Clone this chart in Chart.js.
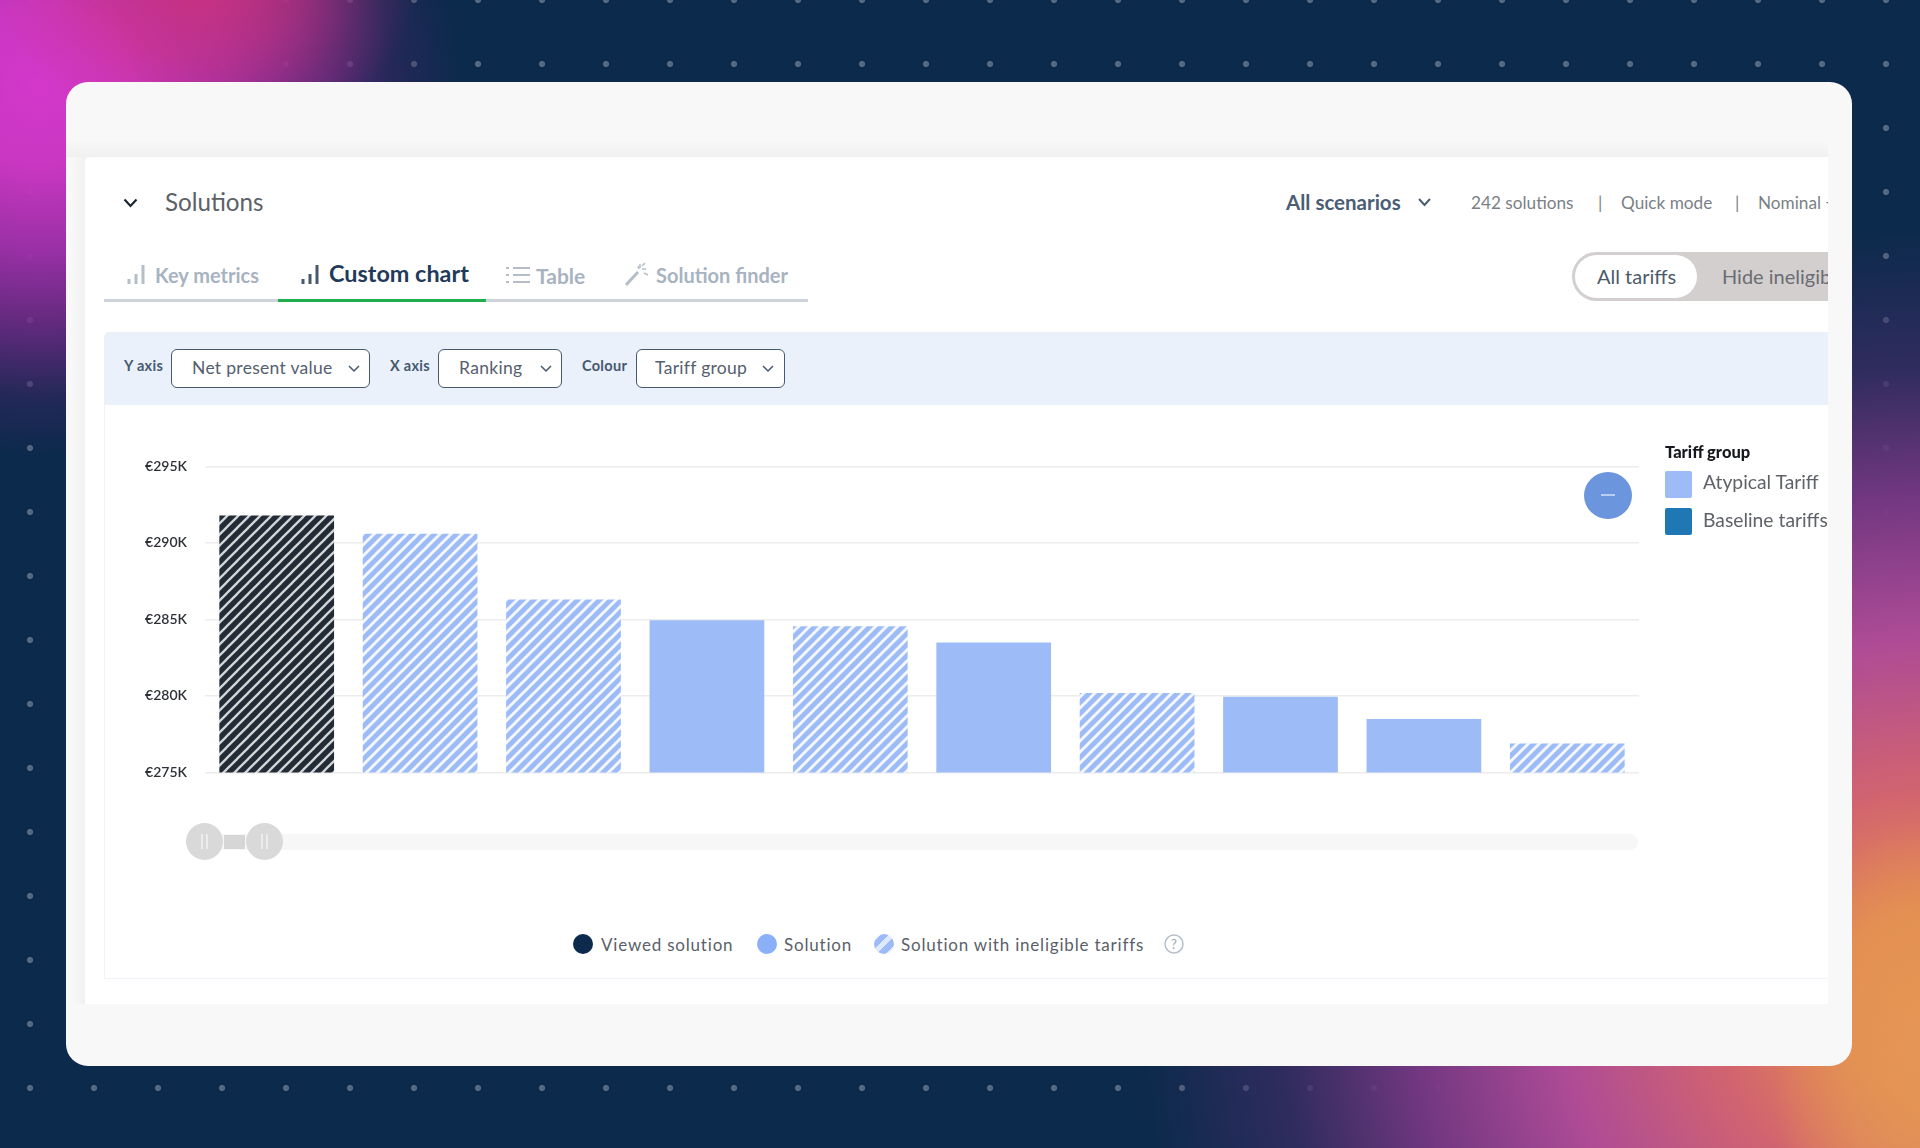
<!DOCTYPE html>
<html>
<head>
<meta charset="utf-8">
<title>Solutions – Custom chart</title>
<script src="https://cdn.jsdelivr.net/npm/chart.js@4/dist/chart.umd.min.js"></script>
<style>
html, body { margin: 0; padding: 0; width: 1920px; height: 1148px; overflow: hidden; }
body { position: relative; font-family: Lato, "Noto Sans", sans-serif; background: #0c2a4c; }
.bg { position: absolute; inset: 0; background:
    radial-gradient(ellipse 210px 150px at 205px -10px, rgba(205,50,125,.9) 0%, rgba(205,50,125,.55) 45%, rgba(205,50,125,.2) 75%, rgba(205,50,125,0) 100%),
    radial-gradient(ellipse 150px 260px at 1925px 1080px, rgba(228,150,85,.95) 0%, rgba(228,150,85,.6) 50%, rgba(228,150,85,0) 100%),
    radial-gradient(ellipse 420px 370px at 40px 85px, #d338cb 0%, rgba(205,55,195,.98) 22%, rgba(160,48,170,.95) 45%, rgba(115,42,135,.82) 65%, rgba(60,38,100,.5) 84%, rgba(12,42,76,0) 100%),
    radial-gradient(ellipse 790px 770px at 1930px 1000px, #e8904f 0%, #e38a52 12%, #d2646f 27%, #ae4b96 47%, rgba(120,56,132,.96) 65%, rgba(60,45,100,.75) 82%, rgba(12,42,76,0) 100%),
    radial-gradient(circle 3px at 32px 32px, rgba(255,255,255,.3) 96%, rgba(255,255,255,0)) -2px -32px / 64px 64px,
    #0c2a4c; }
.card { position: absolute; left: 66px; top: 82px; width: 1786px; height: 984px; background: #f8f8f8; border-radius: 22px; }
.band { position: absolute; left: 66px; top: 142px; width: 1762px; height: 15px; background: linear-gradient(#f7f7f7, #f0f0f0); }
.sideband { position: absolute; left: 72px; top: 157px; width: 13px; height: 847px; background: linear-gradient(90deg, #f8f8f8, #f1f1f1); }
.panel { position: absolute; inset: 0; clip-path: inset(157px 92px 144px 85px round 6px 0 0 0); background: #fff; }
.t { position: absolute; white-space: nowrap; transform: translateY(-50%); line-height: 1; }
.tab { font-size: 20px; font-weight: 700; color: #a8b3c1; }
.sel { position: absolute; box-sizing: border-box; top: 349px; height: 39px; border: 1.5px solid #46596f; border-radius: 6px; background: #fff; }
.lab { font-size: 14.5px; font-weight: 700; color: #46596f; letter-spacing: .3px; }
.opt { font-size: 17.5px; color: #55606e; letter-spacing: .3px; }
.meta { font-size: 17.2px; color: #7b7f86; }
.leg { font-size: 17px; color: #5a5f69; letter-spacing: .8px; }
svg.i { position: absolute; overflow: visible; }
.filter { position: absolute; left: 104px; top: 332px; width: 1740px; height: 73px; background: #eaf1fb; border-radius: 5px 0 0 0; }
.frame { position: absolute; box-sizing: border-box; left: 104px; top: 405px; width: 1740px; height: 574px; border: 1.5px solid #f0f3f9; border-top: 0; }
.tabline { position: absolute; left: 104px; top: 299px; width: 704px; height: 3px; background: #ced3da; }
.tabgreen { position: absolute; left: 278px; top: 299px; width: 208px; height: 3px; background: #1fae4e; }
.toggle { position: absolute; left: 1572px; top: 252px; width: 320px; height: 49px; background: #d3cfcf; border-radius: 25px; }
.pill { position: absolute; left: 1575px; top: 255px; width: 122px; height: 43px; background: #fff; border-radius: 22px; }
canvas#npvChart { position: absolute; left: 105px; top: 440px; }
.track { position: absolute; left: 204px; top: 834px; width: 1434px; height: 16px; background: #f7f7f7; border-radius: 8px; }
.brush { position: absolute; left: 224px; top: 835px; width: 21px; height: 14px; background: #d6d6d6; }
.handle { position: absolute; top: 823px; width: 37px; height: 37px; border-radius: 50%; background: #d9d9d9; }
.handle::before, .handle::after { content: ""; position: absolute; top: 11px; width: 2px; height: 15px; background: #ececec; }
.handle::before { left: 15px; } .handle::after { left: 20px; }
.zoomBtn { position: absolute; left: 1584px; top: 472px; width: 48px; height: 47px; border-radius: 50%; background: #6b96de; }
.zoomBtn::after { content: ""; position: absolute; left: 17px; top: 22px; width: 14px; height: 2px; background: #b9cdf0; }
.sw { position: absolute; left: 1665px; width: 27px; height: 27px; border-radius: 2px; }
.dot { position: absolute; top: 934px; width: 20px; height: 20px; border-radius: 50%; }
</style>
</head>
<body>
<div class="bg"></div>
<div class="card"></div>
<div class="band"></div>
<div class="sideband"></div>

<div class="panel">
    <svg class="i" style="left:123px;top:198px" width="15" height="10"><path d="M1.5 1.5 L7.5 8 L13.5 1.5" fill="none" stroke="#1b2530" stroke-width="2.2"/></svg>
    <div class="t" style="left:165px;top:202px;font-size:24.2px;color:#5c6168">Solutions</div>

    <div class="t" style="left:1286px;top:202px;font-size:20.5px;font-weight:700;color:#4a5d75">All scenarios</div>
    <svg class="i" style="left:1418px;top:198px" width="13" height="9"><path d="M1 1 L6.5 7 L12 1" fill="none" stroke="#4a5d75" stroke-width="2"/></svg>
    <div class="t meta" style="left:1471px;top:203px">242 solutions</div>
    <div class="t meta" style="left:1598px;top:203px">|</div>
    <div class="t meta" style="left:1621px;top:203px">Quick mode</div>
    <div class="t meta" style="left:1735px;top:203px">|</div>
    <div class="t meta" style="left:1758px;top:203px">Nominal +</div>

    <!-- tabs -->
    <svg class="i" style="left:127px;top:264px" width="20" height="22"><path d="M2 20v-5M9 20v-10M16 20V1" stroke="#b4bdc9" stroke-width="3"/></svg>
    <div class="t tab" style="left:155px;top:275px">Key metrics</div>
    <svg class="i" style="left:301px;top:264px" width="20" height="22"><path d="M2 20v-5M9 20v-10M16 20V1" stroke="#46596f" stroke-width="3"/></svg>
    <div class="t tab" style="left:329px;top:274px;font-size:23.4px;color:#223a5a">Custom chart</div>
    <svg class="i" style="left:506px;top:265px" width="24" height="20"><path d="M0 3h3M7 3h17M0 10h3M7 10h17M0 17h3M7 17h17" stroke="#b4bdc9" stroke-width="2"/></svg>
    <div class="t tab" style="left:536px;top:275px;font-size:21px">Table</div>
    <svg class="i" style="left:624px;top:261px" width="26" height="26"><path d="M2 24L14 11" stroke="#b4bdc9" stroke-width="3"/><path d="M16 3v4M22 8h-4M21 2l-3 3M24 14l-4-2M14 5l1 3" stroke="#b4bdc9" stroke-width="1.5"/></svg>
    <div class="t tab" style="left:656px;top:275px">Solution finder</div>
    <div class="tabline"></div>
    <div class="tabgreen"></div>

    <div class="toggle"></div>
    <div class="pill"></div>
    <div class="t" style="left:1597px;top:276px;font-size:20px;color:#4d5a6a">All tariffs</div>
    <div class="t" style="left:1722px;top:276px;font-size:20px;color:#6a6d72">Hide ineligible</div>

    <!-- filter bar -->
    <div class="filter"></div>
    <div class="t lab" style="left:124px;top:366px">Y axis</div>
    <div class="sel" style="left:171px;width:199px"></div>
    <div class="t opt" style="left:192px;top:368px">Net present value</div>
    <svg class="i" style="left:348px;top:365px" width="12" height="8"><path d="M1 1 L6 6 L11 1" fill="none" stroke="#46596f" stroke-width="1.5"/></svg>
    <div class="t lab" style="left:390px;top:366px">X axis</div>
    <div class="sel" style="left:438px;width:124px"></div>
    <div class="t opt" style="left:459px;top:368px">Ranking</div>
    <svg class="i" style="left:540px;top:365px" width="12" height="8"><path d="M1 1 L6 6 L11 1" fill="none" stroke="#46596f" stroke-width="1.5"/></svg>
    <div class="t lab" style="left:582px;top:366px">Colour</div>
    <div class="sel" style="left:636px;width:149px"></div>
    <div class="t opt" style="left:655px;top:368px">Tariff group</div>
    <svg class="i" style="left:762px;top:365px" width="12" height="8"><path d="M1 1 L6 6 L11 1" fill="none" stroke="#46596f" stroke-width="1.5"/></svg>

    <div class="frame"></div>

    <canvas id="npvChart" width="1540" height="360"></canvas>

    <div class="zoomBtn"></div>

    <!-- tariff group legend -->
    <div class="t" style="left:1665px;top:452px;font-size:16.5px;font-weight:900;color:#15181c">Tariff group</div>
    <div class="sw" style="top:471px;background:#9cbbf7"></div>
    <div class="t" style="left:1703px;top:482px;font-size:19.3px;color:#5f6369">Atypical Tariff</div>
    <div class="sw" style="top:508px;background:#1f77b4"></div>
    <div class="t" style="left:1703px;top:520px;font-size:19.3px;color:#5f6369">Baseline tariffs</div>

    <!-- range slider -->
    <div class="track"></div>
    <div class="brush"></div>
    <div class="handle" style="left:186px"></div>
    <div class="handle" style="left:246px"></div>

    <!-- status legend -->
    <div class="dot" style="left:573px;background:#0d2a4d"></div>
    <div class="t leg" style="left:601px;top:944px">Viewed solution</div>
    <div class="dot" style="left:757px;background:#8ab1f7"></div>
    <div class="t leg" style="left:784px;top:944px">Solution</div>
    <div class="dot" style="left:874px;background:repeating-linear-gradient(135deg,#dfe9fc 0 5px,#9cbbf7 5px 11px)"></div>
    <div class="t leg" style="left:901px;top:944px">Solution with ineligible tariffs</div>
    <svg class="i" style="left:1164px;top:934px" width="20" height="20"><circle cx="10" cy="10" r="9" fill="none" stroke="#b7c0cc" stroke-width="1.5"/><text x="10" y="15" text-anchor="middle" font-size="13" fill="#98a3b1" font-family="Lato">?</text></svg>
</div>

<script>
// Values, in thousands of euros
const rankLabels = ['1', '2', '3', '4', '5', '6', '7', '8', '9', '10'];
const npvValues = [291.8, 290.6, 286.3, 284.95, 284.55, 283.5, 280.2, 279.95, 278.5, 276.9];
const ineligibleFlags = [true, true, true, false, true, false, true, false, false, true];
const viewedRank = '1';
const yTicks = [275, 280, 285, 290, 295];

const BLUE = '#9cbbf7';
const DARK = '#222b36';

// Diagonal hatch tile for bars with ineligible tariffs
function hatch(base, stripe, width) {
    const size = 11;
    const tile = document.createElement('canvas');
    tile.width = tile.height = size;
    const c = tile.getContext('2d');
    c.fillStyle = base;
    c.fillRect(0, 0, size, size);
    c.strokeStyle = stripe;
    c.lineWidth = width;
    [0, size, -size].forEach(shift => {
        c.beginPath();
        c.moveTo(shift - 2, size + 2);
        c.lineTo(shift + size + 2, -2);
        c.stroke();
    });
    return document.getElementById('npvChart').getContext('2d').createPattern(tile, 'repeat');
}

const blueHatch = hatch(BLUE, '#f4f7fe', 3);
const darkHatch = hatch(DARK, '#d4d7da', 2.3);

const barFills = rankLabels.map((rank, i) => {
    if (rank === viewedRank) return darkHatch;
    return ineligibleFlags[i] ? blueHatch : BLUE;
});

new Chart(document.getElementById('npvChart'), {
    type: 'bar',
    data: {
        labels: rankLabels,
        datasets: [{
            label: 'Net present value',
            data: npvValues,
            backgroundColor: barFills,
            borderWidth: 0,
            barPercentage: 0.8,
            categoryPercentage: 1,
        }],
    },
    options: {
        responsive: false,
        animation: false,
        devicePixelRatio: 1,
        layout: { padding: { top: 25, right: 6, bottom: 19.5, left: 1 } },
        plugins: { legend: { display: false }, tooltip: { enabled: false } },
        scales: {
            x: {
                grid: { display: false },
                border: { display: false },
                ticks: { display: false },
            },
            y: {
                min: yTicks[0],
                max: yTicks[yTicks.length - 1],
                afterBuildTicks: axis => { axis.ticks = yTicks.map(value => ({ value })); },
                afterFit: axis => { axis.width = 99; },
                grid: { color: '#ececec', lineWidth: 1.5, drawTicks: false },
                border: { display: false },
                ticks: {
                    padding: 18,
                    color: '#2c3036',
                    font: { family: 'Lato', size: 14, weight: '600' },
                    callback: v => '€' + v + 'K',
                },
            },
        },
    },
});
</script>
</body>
</html>
